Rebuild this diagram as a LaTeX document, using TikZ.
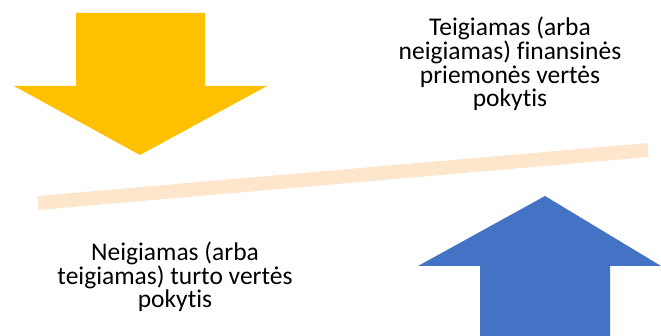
\documentclass[tikz,border=0pt]{standalone}
\usepackage{fontspec}
\setmainfont{Carlito}[Ligatures=NoCommon]
\definecolor{arrowyellow}{HTML}{FFC000}
\definecolor{arrowblue}{HTML}{4472C4}
\definecolor{beamcolor}{HTML}{FDE6CC}
\tikzset{
    caption/.style={align=center,font=\fontsize{25.5}{23.8}\selectfont,inner sep=0pt,anchor=base},
}
\begin{document}
\begin{tikzpicture}[x=1pt,y=-1pt]
    \useasboundingbox (0,0) rectangle (661,336);
    % down arrow
    \fill[arrowyellow] (76,13) -- (205,13) -- (205,86) -- (267,86) -- (140,155)
        -- (14,86) -- (76,86) -- cycle;
    % up arrow
    \fill[arrowblue] (480,336) -- (480,266) -- (418,266) -- (545,196) -- (661,266)
        -- (610,266) -- (610,336) -- cycle;
    % beam
    \coordinate (l) at (38,203);
    \coordinate (r) at (648,150);
    \draw[beamcolor,line width=14pt] (l) -- (r);
    \node[caption] (up) at (510,107) {Teigiamas (arba\\neigiamas) finansinės\\priemonės vertės\\pokytis};
    \node[caption] (down) at (175,308) {Neigiamas (arba\\teigiamas) turto vertės\\pokytis};
\end{tikzpicture}
\end{document}
